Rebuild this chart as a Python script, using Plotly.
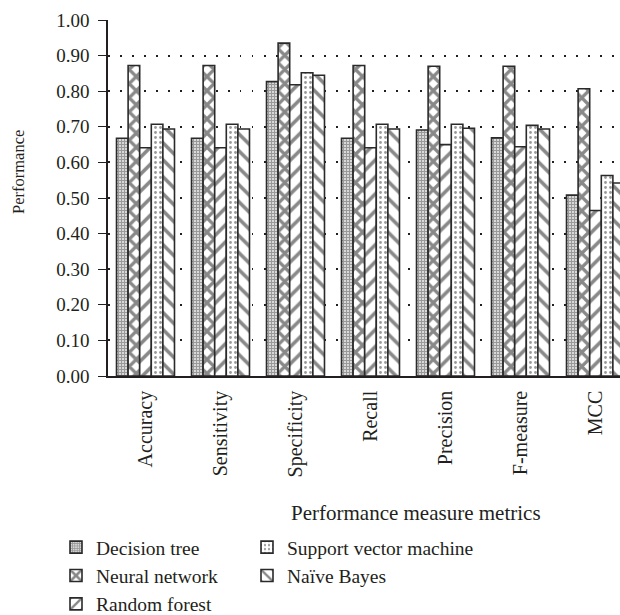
import plotly.graph_objects as go

categories = ["Accuracy", "Sensitivity", "Specificity", "Recall", "Precision", "F-measure", "MCC"]
decision_tree = [0.668, 0.668, 0.827, 0.668, 0.691, 0.669, 0.508]
neural_network = [0.872, 0.872, 0.935, 0.872, 0.870, 0.870, 0.807]
random_forest = [0.641, 0.641, 0.818, 0.641, 0.650, 0.644, 0.465]
svm = [0.707, 0.707, 0.852, 0.707, 0.707, 0.704, 0.563]
naive_bayes = [0.694, 0.694, 0.845, 0.694, 0.696, 0.694, 0.542]
y_ticks = [0.0, 0.1, 0.2, 0.3, 0.4, 0.5, 0.6, 0.7, 0.8, 0.9, 1.0]

FONT = "Liberation Serif"
INK = "#231f20"
W, H = 620, 615
ML, MR, MT, MB = 108, 0, 20, 239
PW, PH = W - ML - MR, H - MT - MB


def px(x):
    return (x - ML) / PW


def py(y):
    return (H - MB - y) / PH


series = [
    ("Decision tree", decision_tree, dict(shape="+", size=3, solidity=0.7, fgcolor="#333333", bgcolor="white"), "legend"),
    ("Neural network", neural_network, dict(shape="x", size=10, solidity=0.55, fgcolor="#111111", bgcolor="white"), "legend"),
    ("Random forest", random_forest, dict(shape="/", size=12, solidity=0.3, fgcolor="#111111", bgcolor="white"), "legend"),
    ("Support vector machine", svm, dict(shape=".", size=5, solidity=0.25, fgcolor="#333333", bgcolor="white"), "legend2"),
    ("Naïve Bayes", naive_bayes, dict(shape="\\", size=12, solidity=0.3, fgcolor="#111111", bgcolor="white"), "legend2"),
]

fig = go.Figure()
for name, vals, pat, leg in series:
    fig.add_trace(go.Bar(
        x=categories, y=vals, name=name, legend=leg,
        marker=dict(color="white", pattern=pat, line=dict(color="#2a2a2a", width=1.6)),
    ))

n = len(categories)
legend_common = dict(yanchor="top", xanchor="left", orientation="v", xref="paper", yref="paper",
                     font=dict(family=FONT, size=19.5, color=INK), tracegroupgap=0,
                     itemwidth=30, bgcolor="rgba(0,0,0,0)", borderwidth=0)
fig.update_layout(
    width=W, height=H,
    margin=dict(l=ML, r=MR, t=MT, b=MB, autoexpand=False),
    paper_bgcolor="white", plot_bgcolor="white",
    barmode="group", bargap=0.227, bargroupgap=0,
    font=dict(family=FONT, size=19, color=INK),
    showlegend=True,
    legend=dict(x=px(56), y=py(528), **legend_common),
    legend2=dict(x=px(247), y=py(528), **legend_common),
    xaxis=dict(
        range=[-0.5, n - 0.5 - 13 / 75], showline=True, linecolor=INK, linewidth=1.5,
        ticks="", tickangle=-90, tickfont=dict(family=FONT, size=20, color=INK), showgrid=False,
        ticklabelstandoff=5, automargin=False,
    ),
    yaxis=dict(
        range=[0, 1.0], tickvals=y_ticks, ticktext=[f"{v:.2f}" for v in y_ticks],
        showline=True, linecolor=INK, linewidth=1.5, ticks="outside", ticklen=8,
        tickcolor=INK, tickwidth=1.2, tickfont=dict(family=FONT, size=19, color=INK),
        showgrid=True, gridcolor=INK, gridwidth=1.5, griddash="1.5px,10.5px",
        zeroline=False, automargin=False, ticklabelstandoff=5,
    ),
    annotations=[
        dict(text="Performance measure metrics", x=px(416), y=py(513), xref="paper", yref="paper",
             xanchor="center", yanchor="middle", showarrow=False,
             font=dict(family=FONT, size=21, color=INK)),
        dict(text="Performance", x=px(18), y=py(172), xref="paper", yref="paper",
             xanchor="center", yanchor="middle", showarrow=False, textangle=-90,
             font=dict(family=FONT, size=16.5, color=INK)),
    ],
)

fig.write_html("out.html", config={"displayModeBar": False},
               post_script="document.body.style.margin='0px';")
